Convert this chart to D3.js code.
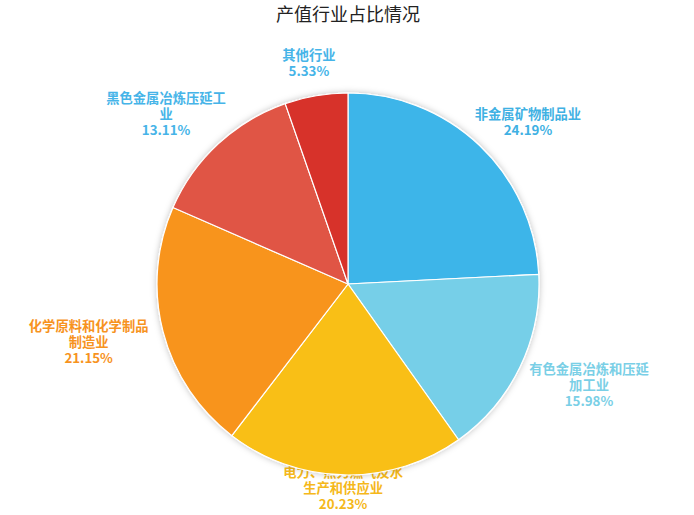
<!DOCTYPE html>
<html>
<head>
<meta charset="utf-8">
<script src="https://cdn.jsdelivr.net/npm/d3@7"></script>
<style>
  html, body { margin: 0; padding: 0; background: #fff; }
  svg { display: block; font-family: "Noto Sans CJK SC", "Noto Sans", sans-serif; }
</style>
</head>
<body>
<svg id="pieChart"></svg>
<script>
const industries = [
  "非金属矿物制品业",
  "有色金属冶炼和压延加工业",
  "电力、热力燃气及水生产和供应业",
  "化学原料和化学制品制造业",
  "黑色金属冶炼压延工业",
  "其他行业"
];
const shares = [24.19, 15.98, 20.23, 21.15, 13.11, 5.33];

const sliceColors = ["#3db5e9", "#76cfe8", "#f9bf17", "#f8941d", "#e05544", "#d7312a"];
const labelColors = ["#3fb1e3", "#7acfe6", "#f5b81b", "#f7931e", "#46b4e8", "#46b4e8"];

const width = 694, height = 515;
const cx = 348, cy = 284, radius = 191;
const labelGap = 17;
const lineH = 16;
const charsPerLine = 9;

const svg = d3.select("#pieChart")
  .attr("width", width)
  .attr("height", height);

// soft shadow around the pie
const defs = svg.append("defs");
const shadow = defs.append("filter")
  .attr("id", "pieShadow")
  .attr("x", "-20%").attr("y", "-20%")
  .attr("width", "140%").attr("height", "140%");
shadow.append("feDropShadow")
  .attr("dx", 0).attr("dy", 0)
  .attr("stdDeviation", 3)
  .attr("flood-color", "#000")
  .attr("flood-opacity", 0.25);

svg.append("text")
  .attr("x", 348)
  .attr("y", 21)
  .attr("text-anchor", "middle")
  .attr("font-size", 18)
  .attr("fill", "#222")
  .text("产值行业占比情况");

const data = industries.map((name, i) => ({ name, value: shares[i], i }));

const pie = d3.pie()
  .sort(null)
  .value((d) => d.value)
  .startAngle(0)
  .endAngle(2 * Math.PI);

const arcs = pie(data);

const arc = d3.arc()
  .innerRadius(0)
  .outerRadius(radius);

// labels first, the pie is drawn over them
const labelLayer = svg.append("g");

arcs.forEach((a) => {
  const name = a.data.name;
  const lines = [];
  for (let k = 0; k < name.length; k += charsPerLine) {
    lines.push(name.slice(k, k + charsPerLine));
  }
  lines.push(a.data.value.toFixed(2) + "%");

  const g = labelLayer.append("g");
  const t = g.append("text")
    .attr("text-anchor", "middle")
    .attr("font-size", 13.3)
    .attr("font-weight", "bold")
    .attr("fill", labelColors[a.data.i]);

  lines.forEach((ln, j) => {
    t.append("tspan")
      .attr("x", 0)
      .attr("y", j * lineH)
      .text(ln);
  });

  const bb = t.node().getBBox();
  const w = bb.width, h = lines.length * lineH;
  const mid = (a.startAngle + a.endAngle) / 2;
  const s = Math.sin(mid), c = -Math.cos(mid);
  const rr = radius + labelGap;
  let bx = cx + s * rr + s * w / 2;
  let by = cy + c * rr + c * h / 2;
  // keep the label inside the view
  by = Math.min(by, height - 3 - h / 2);
  by = Math.max(by, h / 2 + 3);
  g.attr("transform", `translate(${bx},${by - h / 2 + lineH / 2 + 5})`);
});

svg.append("g")
  .attr("transform", `translate(${cx},${cy})`)
  .attr("filter", "url(#pieShadow)")
  .selectAll("path")
  .data(arcs)
  .enter()
  .append("path")
  .attr("d", arc)
  .attr("fill", (d) => sliceColors[d.data.i])
  .attr("stroke", "#fff")
  .attr("stroke-width", 1.2);
</script>
</body>
</html>
